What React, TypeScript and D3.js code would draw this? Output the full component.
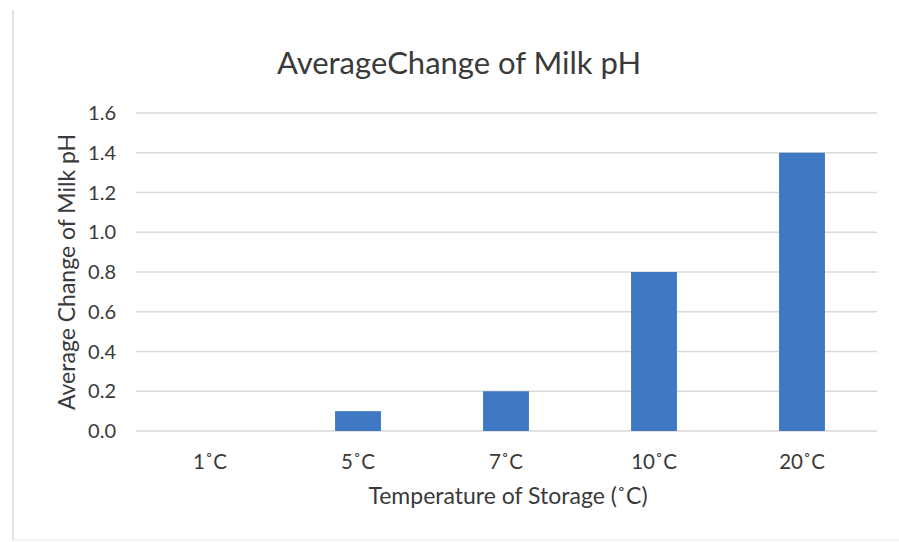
import React from "react";
import * as d3 from "d3";

const categories = ["1˚C", "5˚C", "7˚C", "10˚C", "20˚C"];
const values = [0, 0.1, 0.2, 0.8, 1.4];
const yTicks = [0, 0.2, 0.4, 0.6, 0.8, 1.0, 1.2, 1.4, 1.6];
const title = "AverageChange of Milk pH";
const xTitle = "Temperature of Storage (˚C)";
const yTitle = "Average Change of Milk pH";

const W = 899;
const H = 542;
const FONT = "Lato, 'Open Sans', sans-serif";
const TEXT = "#3a3a3a";

export default function App() {
  const x = d3.scaleBand<string>().domain(categories).range([136, 876]).paddingInner(0.69).paddingOuter(0.345);
  const y = d3.scaleLinear().domain([0, 1.6]).range([431, 113]);
  const fmt = d3.format(".1f");

  return (
    <svg
      width={W}
      height={H}
      style={{ position: "absolute", left: 0, top: 0, background: "#fff" }}
    >
      <rect x={0} y={0} width={W} height={H} fill="#fff" />
      <line x1={13} x2={13} y1={10} y2={540} stroke="#e2e2e2" strokeWidth={2} />
      <line x1={13} x2={899} y1={540} y2={540} stroke="#ececec" strokeWidth={1} />
      <text x={459} y={74} textAnchor="middle" fontFamily={FONT} fontSize={31} fill={TEXT}>
        {title}
      </text>
      <g>
        {yTicks.map((t) => (
          <line key={t} x1={136} x2={877} y1={y(t)} y2={y(t)} stroke="#d9d9d9" strokeWidth={1.5} />
        ))}
      </g>
      <g>
        {yTicks.map((t) => (
          <text key={t} x={116} y={y(t)} dy="0.36em" textAnchor="end" fontFamily={FONT} fontSize={20} fill={TEXT}>
            {fmt(t)}
          </text>
        ))}
      </g>
      <g>
        {categories.map((c, i) => (
          <rect
            key={c}
            x={x(c)}
            y={y(values[i])}
            width={x.bandwidth()}
            height={y(0) - y(values[i])}
            fill="#3f78c3"
          />
        ))}
      </g>
      <g>
        {categories.map((c) => (
          <text key={c} x={(x(c) as number) + x.bandwidth() / 2} y={469} textAnchor="middle" fontFamily={FONT} fontSize={20.5} fill={TEXT}>
            {c}
          </text>
        ))}
      </g>
      <text x={508} y={504} textAnchor="middle" fontFamily={FONT} fontSize={23} fill={TEXT}>
        {xTitle}
      </text>
      <text
        transform="translate(75,272) rotate(-90)"
        textAnchor="middle"
        fontFamily={FONT}
        fontSize={23}
        fill={TEXT}
      >
        {yTitle}
      </text>
    </svg>
  );
}
